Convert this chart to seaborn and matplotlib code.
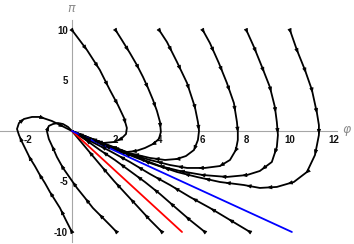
import numpy as np
import pandas as pd
import matplotlib
matplotlib.use("Agg")
import matplotlib.pyplot as plt
import seaborn as sns

# ------------------------------------------------------------
# trajectories in the (phi, pi) plane, listed in the flow direction
# ------------------------------------------------------------
# starting at pi = 10
t0_phi = [0, 0.69, 1.28, 1.74, 2.11, 2.39, 2.52, 2.48, 2.25, 1.93, 1.42, 0.64, 0]
t0_pi = [10, 8.02, 6.04, 4.06, 2.57, 1.29, 0.30, -0.30, -0.79, -1.09, -1.19, -0.54, 0]

t1_phi = [2.0, 2.29, 2.66, 2.98, 3.26, 3.49, 3.72, 3.90, 4.04, 4.08, 3.99, 3.72, 3.35, 2.94, 2.52, 1.42, 0.64, 0]
t1_pi = [10, 9.01, 7.72, 6.53, 5.35, 4.26, 3.07, 1.98, 0.89, -0.10, -0.79, -1.29, -1.68, -1.98, -2.08, -1.19, -0.54, 0]

t2_phi = [4.0, 4.36, 4.82, 5.28, 5.64, 5.78, 5.83, 5.78, 5.60, 5.23, 4.82, 4.27, 3.58, 2.52, 1.42, 0.64, 0]
t2_pi = [10, 8.81, 6.83, 4.75, 2.38, 0.89, 0, -0.89, -1.88, -2.48, -2.77, -2.87, -2.67, -2.13, -1.24, -0.59, 0]

t3_phi = [6.0, 6.33, 6.74, 7.11, 7.43, 7.57, 7.61, 7.61, 7.52, 7.25, 6.79, 6.10, 5.28, 4.50, 3.58, 2.52, 1.42, 0.64, 0]
t3_pi = [10, 8.71, 6.73, 4.75, 2.77, 0.89, -0.10, -0.89, -1.88, -2.87, -3.47, -3.66, -3.66, -3.37, -2.87, -2.18, -1.29, -0.59, 0]

t4_phi = [8.0, 8.35, 8.72, 9.08, 9.31, 9.40, 9.45, 9.40, 9.17, 8.62, 8.03, 7.11, 6.01, 4.95, 4.04, 2.52, 1.42, 0.64, 0]
t4_pi = [10, 8.32, 6.34, 4.36, 2.38, 0.89, -0.40, -1.58, -3.07, -3.96, -4.36, -4.55, -4.36, -3.96, -3.47, -2.23, -1.34, -0.64, 0]

t5_phi = [10.0, 10.32, 10.69, 11.01, 11.24, 11.33, 11.33, 11.15, 10.78, 10.18, 9.40, 8.62, 7.89, 6.79, 5.73, 4.82, 3.58, 2.52, 1.42, 0.64, 0]
t5_pi = [10, 8.02, 6.04, 4.06, 1.78, 0.59, -0.40, -2.38, -4.06, -5.05, -5.54, -5.64, -5.35, -5.05, -4.55, -4.06, -3.17, -2.28, -1.39, -0.69, 0]

# starting at pi = -10
b0_phi = [0, -0.28, -0.55, -0.78, -1.01, -1.24, -1.47, -1.70, -1.93, -2.11, -2.29, -2.43, -2.52, -2.43, -2.20, -1.83, -1.47, -0.92, -0.46, 0]
b0_pi = [-10, -8.81, -7.62, -6.83, -6.04, -5.15, -4.36, -3.47, -2.67, -1.88, -1.09, -0.40, 0.20, 0.79, 1.19, 1.39, 1.39, 0.99, 0.50, 0]

b1_phi = [2.05, 1.74, 1.33, 0.96, 0.60, 0.23, -0.09, -0.41, -0.69, -0.87, -1.06, -1.15, -1.06, -0.87, -0.64, -0.41, -0.18, 0]
b1_pi = [-10, -9.31, -8.42, -7.62, -6.63, -5.64, -4.65, -3.66, -2.57, -1.68, -0.79, 0, 0.50, 0.69, 0.79, 0.69, 0.40, 0]

b2_phi = [4.13, 3.58, 3.03, 2.48, 1.93, 1.38, 0.92, 0.46, 0]
b2_pi = [-10, -8.81, -7.52, -6.24, -4.95, -3.56, -2.38, -1.19, 0]

b3_phi = [6.10, 5.41, 4.72, 4.04, 3.35, 2.66, 1.97, 1.28, 0.64, 0]
b3_pi = [-10, -8.81, -7.52, -6.24, -5.05, -3.96, -2.87, -1.88, -0.89, 0]

b4_phi = [8.17, 7.25, 6.33, 5.41, 4.50, 3.58, 2.66, 1.74, 0.83, 0]
b4_pi = [-10, -8.81, -7.62, -6.53, -5.35, -4.26, -3.07, -1.98, -0.99, 0]

# straight reference lines through the origin
red_phi = [0, 5.05]
red_pi = [0, -10]
blue_phi = [0, 10.09]
blue_pi = [0, -10]

x_ticks = [-2, 2, 4, 6, 8, 10, 12]
y_ticks = [-10, -5, 5, 10]

curves = {
    "t0": (t0_phi, t0_pi), "t1": (t1_phi, t1_pi), "t2": (t2_phi, t2_pi),
    "t3": (t3_phi, t3_pi), "t4": (t4_phi, t4_pi), "t5": (t5_phi, t5_pi),
    "b0": (b0_phi, b0_pi), "b1": (b1_phi, b1_pi), "b2": (b2_phi, b2_pi),
    "b3": (b3_phi, b3_pi), "b4": (b4_phi, b4_pi),
}

rows = []
for name, (ph, pp) in curves.items():
    for i, (a, b) in enumerate(zip(ph, pp)):
        rows.append((name, i, a, b))
df = pd.DataFrame(rows, columns=["curve", "step", "phi", "pi"])

# ------------------------------------------------------------
# figure
# ------------------------------------------------------------
sns.set_style("white")
plt.rcParams["font.family"] = ["Liberation Sans", "DejaVu Sans"]
plt.rcParams["axes.unicode_minus"] = False

fig = plt.figure(figsize=(3.54, 2.44), dpi=100)
ax = fig.add_axes([0, 0, 1, 1])
ax.set_xlim(-3.30, 12.94)
ax.set_ylim(-11.19, 12.97)

sns.lineplot(data=df, x="phi", y="pi", units="curve", estimator=None, sort=False,
             color="black", lw=1.3, ax=ax, zorder=3)
sns.lineplot(x=red_phi, y=red_pi, color="#ff0000", lw=1.3, ax=ax, zorder=4)
sns.lineplot(x=blue_phi, y=blue_pi, color="#0000ff", lw=1.3, ax=ax, zorder=4)


def add_arrows(ph, pp, spacing=21.0, offset=2.5):
    # small arrowheads spaced evenly (in pixels) along each trajectory
    pts = ax.transData.transform(np.column_stack([ph, pp]))
    seg = np.hypot(*np.diff(pts, axis=0).T)
    cum = np.concatenate([[0], np.cumsum(seg)])
    inv = ax.transData.inverted()
    for d in np.arange(offset, cum[-1] - 8, spacing):
        i = int(np.clip(np.searchsorted(cum, d) - 1, 0, len(seg) - 1))
        f = (d - cum[i]) / seg[i]
        p = pts[i] + f * (pts[i + 1] - pts[i])
        u = (pts[i + 1] - pts[i]) / seg[i]
        a, b = inv.transform([p - 1.5 * u, p + 1.5 * u])
        ax.annotate("", xy=b, xytext=a, zorder=5,
                    arrowprops=dict(arrowstyle="-|>,head_length=0.3,head_width=0.12",
                                    color="black", lw=0.5, shrinkA=0, shrinkB=0))


for ph, pp in curves.values():
    add_arrows(ph, pp)

# Mathematica-like axes through the origin
for side in ["top", "right"]:
    ax.spines[side].set_visible(False)
ax.spines["left"].set_position(("data", 0))
ax.spines["bottom"].set_position(("data", 0))
ax.spines["bottom"].set_bounds(-3.3, 12.16)
ax.spines["left"].set_bounds(-11.0, 11.0)
for side in ["left", "bottom"]:
    ax.spines[side].set_color("#a6a6a6")
    ax.spines[side].set_linewidth(0.8)
    ax.spines[side].set_zorder(1)

ax.set_xticks(x_ticks)
ax.set_yticks(y_ticks)
ax.set_xticks(np.arange(-3, 12.01, 0.5), minor=True)
ax.set_yticks(np.arange(-11, 11.01, 1), minor=True)
ax.tick_params(which="both", direction="in", color="#a6a6a6", width=0.7,
               labelsize=7, labelcolor="#111111")
ax.tick_params(which="major", length=3.2)
ax.tick_params(which="minor", length=1.8)
ax.tick_params(axis="x", pad=3)
ax.tick_params(axis="y", pad=3)
for lab in ax.get_xticklabels() + ax.get_yticklabels():
    lab.set_fontweight("bold")
ax.set_xlabel("")
ax.set_ylabel("")

ax.text(12.61, 0.15, "φ", fontsize=9, style="italic", color="#8c8c8c",
        ha="center", va="center", family=["DejaVu Sans"])
ax.text(-0.05, 12.15, "π", fontsize=9, style="italic", color="#8c8c8c",
        ha="center", va="center", family=["DejaVu Sans"])

fig.savefig("out.png", dpi=100)
